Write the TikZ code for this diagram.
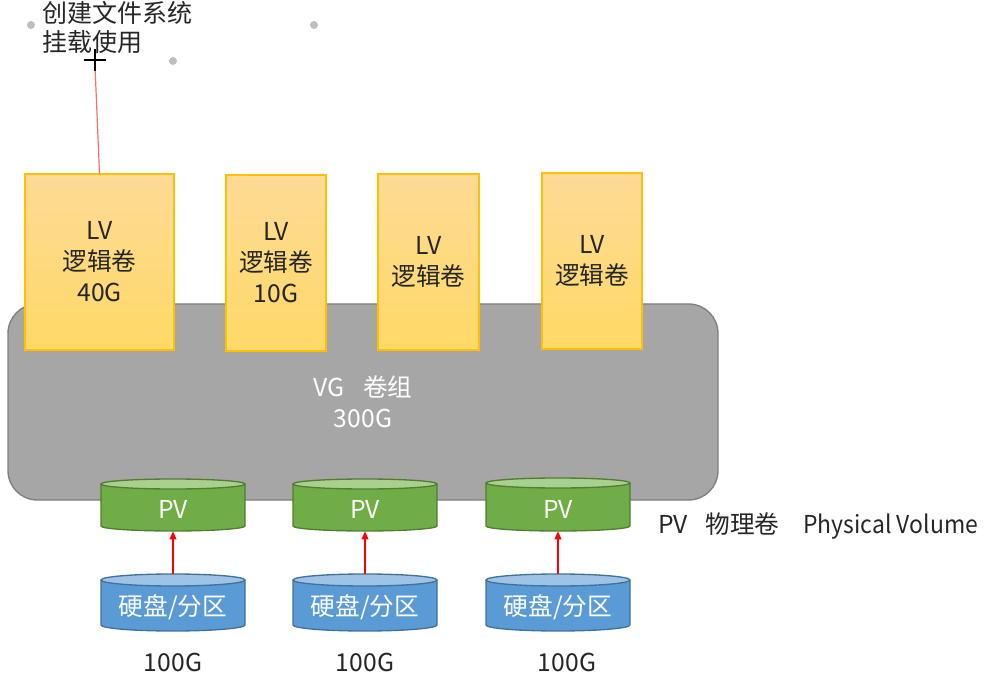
\documentclass[tikz,border=0pt]{standalone}
\usepackage{fontspec}
\usepackage{graphicx}
\setmainfont{Noto Sans CJK SC}
\usetikzlibrary{arrows.meta}
\definecolor{vgfill}{HTML}{A6A6A6}
\definecolor{vgline}{HTML}{7F7F7F}
\definecolor{lvtop}{HTML}{FDDA96}
\definecolor{lvbot}{HTML}{FFD966}
\definecolor{lvline}{HTML}{FFC000}
\definecolor{pvb}{HTML}{70AD47}
\definecolor{pvt}{HTML}{A9D18E}
\definecolor{pvl}{HTML}{507E32}
\definecolor{dkb}{HTML}{5B9BD5}
\definecolor{dkt}{HTML}{9DC3E6}
\definecolor{dkl}{HTML}{41719C}
\definecolor{txtdark}{HTML}{262626}
\definecolor{dotgray}{HTML}{BFBFBF}
\definecolor{pinkline}{HTML}{FF6B6B}
\tikzset{
  bigtext/.style={font=\fontsize{18.5}{23.25}\selectfont},
  vgbox/.style={draw=vgline, fill=vgfill, line width=1pt, rounded corners=22pt, inner sep=0pt, bigtext, text=white, align=center},
  lvbox/.style={draw=lvline, top color=lvtop, bottom color=lvbot, line width=0.9pt, inner sep=0pt, bigtext, text=txtdark, align=center},
  pvbody/.style={fill=pvb},
  pvtop/.style={fill=pvt, draw=pvl, line width=1pt},
  pvedge/.style={draw=pvl, line width=1pt},
  diskbody/.style={fill=dkb},
  disktop/.style={fill=dkt, draw=dkl, line width=1pt},
  diskedge/.style={draw=dkl, line width=1pt},
  cyltext/.style={bigtext, text=white, inner sep=0pt},
  plaintext/.style={bigtext, text=txtdark, inner sep=0pt},
  redarrow/.style={draw=red, line width=1.1pt, -{Triangle[length=6pt,width=5pt]}},
}
% #1 name, #2 cx, #3 ytop, #4 ybot, #5 ry, #6 kind, #7 label, #8 label y
\newcommand\drawcyl[8]{%
  \fill[#6body] (#2-72,#3+#5) -- (#2-72,#4-#5) arc[start angle=180,end angle=0,x radius=72,y radius=#5] -- (#2+72,#3+#5) -- cycle;
  \draw[#6edge] (#2-72,#3+#5) -- (#2-72,#4-#5) arc[start angle=180,end angle=0,x radius=72,y radius=#5] -- (#2+72,#3+#5);
  \path[#6top] (#2,#3+#5) ellipse[x radius=72,y radius=#5];
  \node[inner sep=0pt, minimum width=108pt, minimum height={(#4-#3)*0.75pt}] (#1) at (#2,{(#3+#4)/2}) {};
  \node[cyltext] (#1t) at (#2,#8) {#7};
}
\begin{document}
\begin{tikzpicture}[x=0.75pt,y=-0.75pt]
\useasboundingbox (0,0) rectangle (990,688);

% top text
\node[font=\fontsize{18.75}{21.75}\selectfont, text=txtdark, align=left, anchor=west, inner sep=0pt] (fs) at (42,27) {创建文件系统\\挂载使用};

% handles
\fill[dotgray] (31,25) circle[radius=4];
\fill[dotgray] (314,25) circle[radius=4];
\fill[dotgray] (173,61) circle[radius=4];

% VG
\node[vgbox, minimum width=532.5pt, minimum height=147pt] (vg) at (363,402) {VG\hspace{14pt}卷组\\300G};

% LVs
\node[lvbox, minimum width=111.75pt, minimum height=132pt] (lv1) at (99.5,262) {LV\\逻辑卷\\40G};
\node[lvbox, minimum width=75pt, minimum height=132pt] (lv2) at (276,263) {LV\\逻辑卷\\10G};
\node[lvbox, minimum width=75.75pt, minimum height=132pt] (lv3) at (428.5,262) {LV\\逻辑卷};
\node[lvbox, minimum width=75pt, minimum height=132pt] (lv4) at (592,261) {LV\\逻辑卷};

% connector being drawn + cursor
\coordinate (cur) at (95,66);
\draw[pinkline, line width=0.9pt] (lv1.north) -- (cur);
\draw[black, line width=1.2pt] (84,60) -- (106,60) (95,49) -- (95,71);

% PV cylinders
\drawcyl{pv1}{173}{479}{531}{5}{pv}{PV}{509}
\drawcyl{pv2}{365}{479}{531}{5}{pv}{PV}{509}
\drawcyl{pv3}{558}{478}{531}{5}{pv}{PV}{509}

% disks
\drawcyl{dk1}{173}{574}{631}{6}{disk}{硬盘/分区}{607}
\drawcyl{dk2}{365}{574}{631}{6}{disk}{硬盘/分区}{607}
\drawcyl{dk3}{558}{574}{631}{6}{disk}{硬盘/分区}{607}

% arrows
\draw[redarrow] (dk1.north) -- (pv1.south);
\draw[redarrow] (dk2.north) -- (pv2.south);
\draw[redarrow] (dk3.north) -- (pv3.south);

% size labels
\node[plaintext] (s1) at (173,662) {100G};
\node[plaintext] (s2) at (365,662) {100G};
\node[plaintext] (s3) at (567,662) {100G};

% legend
\node[plaintext, anchor=west] (leg) at (658,526) {PV\hspace{13pt}物理卷\hspace{18pt}\scalebox{0.93}[1]{Physical Volume}};
\end{tikzpicture}
\end{document}
